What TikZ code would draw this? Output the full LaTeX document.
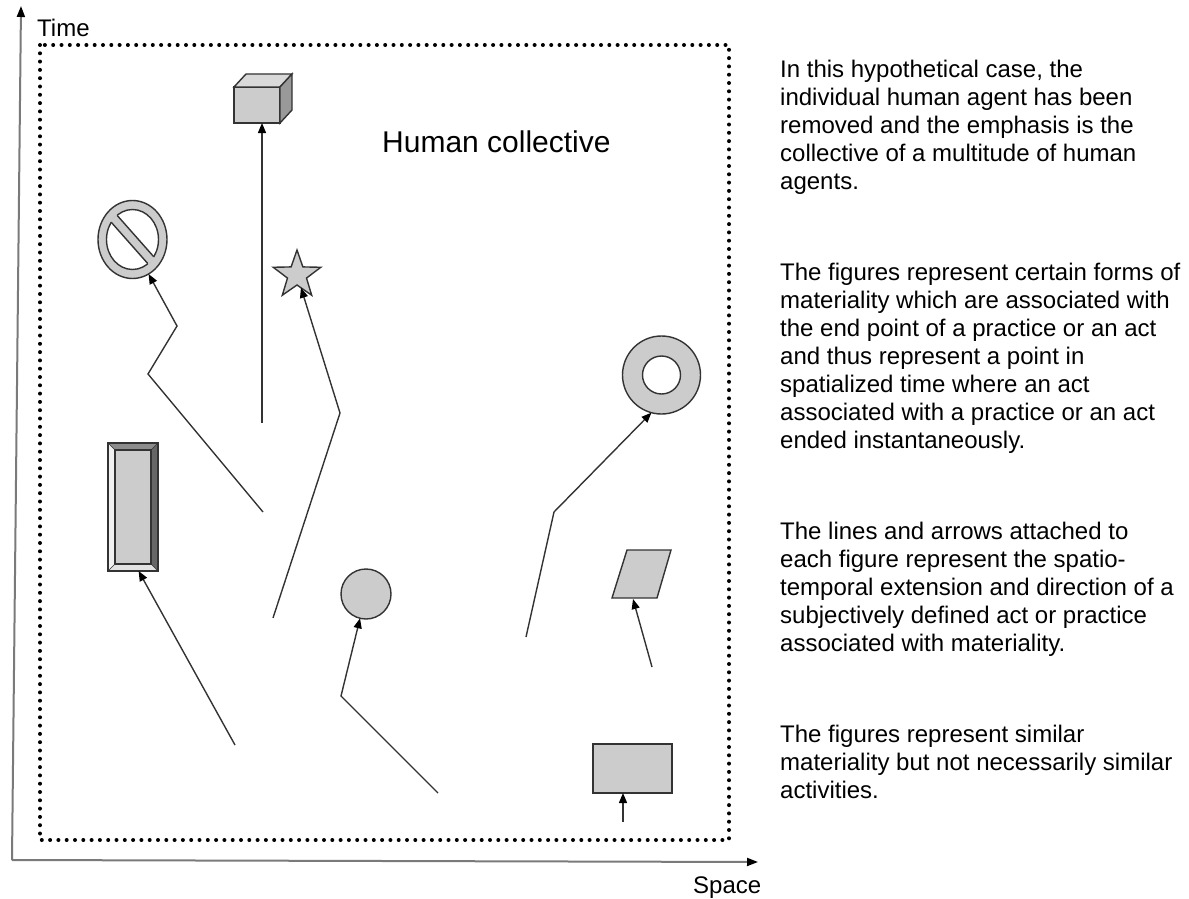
\documentclass[tikz,border=0pt]{standalone}
\usepackage{fontspec}
\setmainfont{Liberation Sans}
\usetikzlibrary{arrows.meta,shapes.geometric,calc}
\definecolor{shapegray}{HTML}{CCCCCC}
\definecolor{edgegray}{HTML}{333333}
\definecolor{axisgray}{HTML}{7A7A7A}
\definecolor{bevtop}{HTML}{8C8C8C}
\definecolor{bevright}{HTML}{666666}
\definecolor{bevbottom}{HTML}{E2E2E2}
\definecolor{bevleft}{HTML}{F0F0F0}
\definecolor{cubetop}{HTML}{D9D9D9}
\definecolor{cubeside}{HTML}{999999}
\begin{document}
\begin{tikzpicture}[x=1pt,y=-1pt,
  figure/.style={draw=edgegray, line width=1.4pt, fill=shapegray, inner sep=0pt, outer sep=0pt},
  edgeline/.style={draw=edgegray, line width=1.4pt},
  act/.style={draw=edgegray, line width=1.4pt, -{Triangle[length=10pt,width=8pt,color=black]}},
  axisline/.style={draw=axisgray, line width=2pt, -{Triangle[length=11pt,width=8pt,color=black]}},
  note/.style={font=\fontsize{24}{28}\selectfont, align=left, anchor=north west, inner sep=0pt, text=black},
  label/.style={font=\fontsize{24}{28}\selectfont, anchor=base west, inner sep=0pt, text=black},
]
\useasboundingbox (0,0) rectangle (1189,899);

% axes
\coordinate (origin) at (12,860);
\coordinate (timeend) at (21,6);
\coordinate (spaceend) at (758,862);
\draw[axisline] (origin) -- (timeend);
\draw[axisline] (origin) -- (spaceend);
\node[label] (timelbl) at (37,37) {Time};
\node[label] (spacelbl) at (693,893) {Space};

% dotted frame of the collective
\draw[black, line width=4pt, line cap=round, dash pattern=on 0pt off 8.3pt] (40,45) rectangle (729,840);
\node[label, font=\fontsize{30}{34}\selectfont] (title) at (382,152) {Human collective};

% cube
\node[figure, minimum width=46pt, minimum height=36pt] (cube) at (257,105) {};
\filldraw[edgeline, fill=cubetop] (cube.north west) -- ++(12,-13) -- ++(46,0) -- (cube.north east) -- cycle;
\filldraw[edgeline, fill=cubeside] (cube.north east) -- ++(12,-13) -- ++(0,36) -- (cube.south east) -- cycle;

% prohibition sign
\node[ellipse, figure, minimum width=69pt, minimum height=78pt] (nosign) at (132.5,239.5) {};
\filldraw[edgeline, fill=white] (nosign.center) ellipse [x radius=26, y radius=30];
\begin{scope}[shift={(nosign.center)}]
  \begin{scope}
    \clip (0,0) ellipse [x radius=27.2, y radius=31.2];
    \fill[shapegray] (-36.5,-34.47) -- (29.76,40.43) -- (36.5,34.47) -- (-29.76,-40.43) -- cycle;
  \end{scope}
  \begin{scope}
    \clip (0,0) ellipse [x radius=26, y radius=30];
    \draw[edgeline] (-36.5,-34.47) -- (29.76,40.43);
    \draw[edgeline] (-29.76,-40.43) -- (36.5,34.47);
  \end{scope}
\end{scope}

% star
\node[star, star points=5, star point ratio=2.5, figure, minimum size=50pt] (star) at (297,275) {};

% bevelled bar
\node[draw=edgegray, line width=1.4pt, minimum width=50pt, minimum height=128pt, inner sep=0pt, outer sep=0pt] (bevel) at (133,507) {};
\begin{scope}[shift={(bevel.center)}]
  \fill[bevtop] (-25,-64) -- (25,-64) -- (18,-57) -- (-18,-57) -- cycle;
  \fill[bevright] (25,-64) -- (25,64) -- (18,57) -- (18,-57) -- cycle;
  \fill[bevbottom] (25,64) -- (-25,64) -- (-18,57) -- (18,57) -- cycle;
  \fill[bevleft] (-25,64) -- (-25,-64) -- (-18,-57) -- (-18,57) -- cycle;
  \draw[edgegray, line width=0.5pt] (-25,-64) -- (-18,-57) (25,-64) -- (18,-57) (25,64) -- (18,57) (-25,64) -- (-18,57);
  \filldraw[edgeline, fill=shapegray] (-18,-57) rectangle (18,57);
  \draw[edgegray, line width=2pt] (-25,-64) rectangle (25,64);
\end{scope}

% disc
\node[circle, figure, minimum size=50pt] (disc) at (366,594) {};

% ring
\node[circle, figure, minimum size=78pt] (ring) at (661.5,375) {};
\filldraw[edgeline, fill=white] (ring.center) circle [radius=19];

% parallelogram
\filldraw[edgeline, fill=shapegray] (627,550) -- (671,550) -- (657,598) -- (612,598) -- cycle;
\coordinate (paratip) at (633,599);

% slab
\node[rectangle, figure, minimum width=79pt, minimum height=49pt] (slab) at (632.5,768.5) {};

% acts leading to each figure
\coordinate (a0) at (262,423);
\draw[act] (a0) -- (a0 |- cube.south);

\coordinate (b0) at (263,512);
\coordinate (b1) at (148,374);
\coordinate (b2) at (177,326);
\draw[act] (b0) -- (b1) -- (b2) -- (nosign.295);

\coordinate (c0) at (273,618);
\coordinate (c1) at (340,413);
\draw[act] (c0) -- (c1) -- (star);

\coordinate (d0) at (235,745);
\draw[act] (d0) -- (bevel.275);

\coordinate (e0) at (438,793);
\coordinate (e1) at (341,696);
\draw[act] (e0) -- (e1) -- (disc);

\coordinate (f0) at (526,637);
\coordinate (f1) at (554,512);
\draw[act] (f0) -- (f1) -- (ring.255);

\coordinate (g0) at (652,667);
\draw[act] (g0) -- (paratip);

\coordinate (h0) at (623,822);
\draw[act] (h0) -- (h0 |- slab.south);

% explanatory notes
\node[note] (note1) at (780,57.4) {\strut In this hypothetical case, the\\
individual human agent has been\\
removed and the emphasis is the\\
collective of a multitude of human\\
agents.};
\node[note] (note2) at (780,260.4) {\strut The figures represent certain forms of\\
materiality which are associated with\\
the end point of a practice or an act\\
and thus represent a point in\\
spatialized time where an act\\
associated with a practice or an act\\
ended instantaneously.};
\node[note] (note3) at (780,519.4) {\strut The lines and arrows attached to\\
each figure represent the spatio-\\
temporal extension and direction of a\\
subjectively defined act or practice\\
associated with materiality.};
\node[note] (note4) at (780,722.4) {\strut The figures represent similar\\
materiality but not necessarily similar\\
activities.};
\end{tikzpicture}
\end{document}
